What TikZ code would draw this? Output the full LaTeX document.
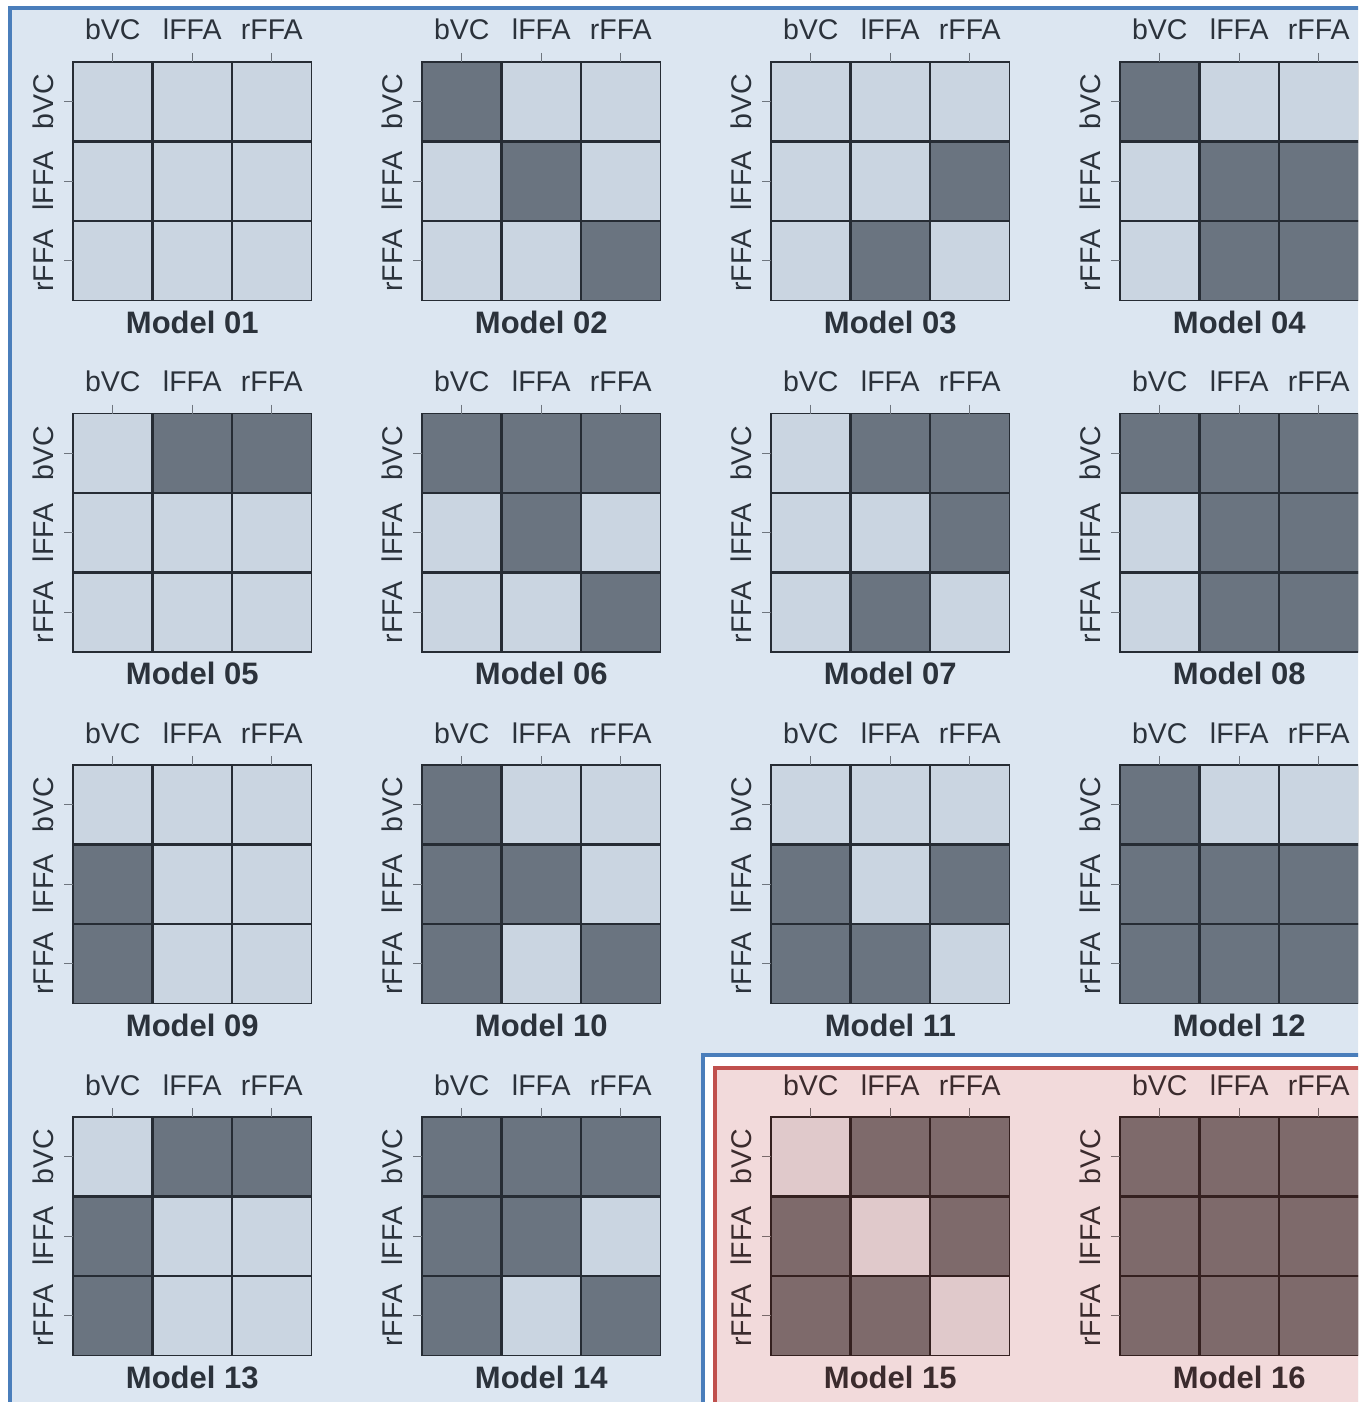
\documentclass[tikz,border=0pt]{standalone}
\usepackage{fontspec}
\setmainfont{Liberation Sans}
\definecolor{bgblue}{HTML}{DCE6F1}
\definecolor{bluebd}{HTML}{4A7EBB}
\definecolor{redbd}{HTML}{C0504D}
\definecolor{pinkbg}{HTML}{F2DADB}
\definecolor{blight}{HTML}{CAD5E1}
\definecolor{bdark}{HTML}{6A7480}
\definecolor{bgrid}{HTML}{262C34}
\definecolor{btext}{HTML}{2B323B}
\definecolor{btick}{HTML}{6E757E}
\definecolor{rlight}{HTML}{E0C9CB}
\definecolor{rdark}{HTML}{7E6A6B}
\definecolor{rgrid}{HTML}{34201F}
\definecolor{rtext}{HTML}{3B2B2D}
\definecolor{rtick}{HTML}{7A6A6B}
\tikzset{
  lab/.style={inner sep=0pt, font=\fontsize{28.5}{31}\selectfont},
  ttl/.style={inner sep=0pt, font=\fontsize{31}{34}\selectfont\bfseries},
}
\newcommand\mmat[5]{%
  \begin{scope}[shift={(#1,#2)}]
    \foreach \v [count=\k from 0] in {#4} {
      \pgfmathtruncatemacro\rr{int(\k/3)}
      \pgfmathtruncatemacro\cc{mod(\k,3)}
      \ifnum\v=1 \def\fc{#5dark}\else\def\fc{#5light}\fi
      \fill[fill=\fc] (\cc*79.5, \rr*79.5) rectangle ++(79.5,79.5);
    }
    \draw[#5grid, line width=1.3] (0,0) rectangle (238.5,238.5);
    \draw[#5grid, line width=2.3] (79.5,0) -- (79.5,238.5) (159,0) -- (159,238.5)
      (0,79.5) -- (238.5,79.5) (0,159) -- (238.5,159);
    \foreach \p in {39.75,119.25,198.75} {
      \draw[#5tick, line width=1] (\p,-9) -- (\p,0);
      \draw[#5tick, line width=1] (-9,\p) -- (0,\p);
    }
    \node[lab, text=#5text, anchor=base] (m#3c1) at (39.75,-22) {bVC};
    \node[lab, text=#5text, anchor=base] (m#3c2) at (119.25,-22) {lFFA};
    \node[lab, text=#5text, anchor=base] (m#3c3) at (198.75,-22) {rFFA};
    \node[lab, text=#5text, anchor=base, rotate=90] (m#3r1) at (-20,39.75) {bVC};
    \node[lab, text=#5text, anchor=base, rotate=90] (m#3r2) at (-20,119.25) {lFFA};
    \node[lab, text=#5text, anchor=base, rotate=90] (m#3r3) at (-20,198.75) {rFFA};
    \node[ttl, text=#5text, anchor=base] (m#3t) at (119.25,271) {Model #3};
  \end{scope}}
\begin{document}
\begin{tikzpicture}[x=1pt, y={(0pt,-1pt)}]
\useasboundingbox (0,0) rectangle (1358,1402);
\clip (0,0) rectangle (1358,1402);
\fill[white] (0,0) rectangle (1358,1402);
\draw[bluebd, line width=4, fill=bgblue] (10,8) rectangle (1390,1420);
\draw[bluebd, line width=4, fill=white] (703,1055) rectangle (1390,1420);
\draw[redbd, line width=4, fill=pinkbg] (715,1068) rectangle (1390,1420);
% row 1
\mmat{73}{62}{01}{0,0,0,0,0,0,0,0,0}{b}
\mmat{422}{62}{02}{1,0,0,0,1,0,0,0,1}{b}
\mmat{771}{62}{03}{0,0,0,0,0,1,0,1,0}{b}
\mmat{1120}{62}{04}{1,0,0,0,1,1,0,1,1}{b}
% row 2
\mmat{73}{413.5}{05}{0,1,1,0,0,0,0,0,0}{b}
\mmat{422}{413.5}{06}{1,1,1,0,1,0,0,0,1}{b}
\mmat{771}{413.5}{07}{0,1,1,0,0,1,0,1,0}{b}
\mmat{1120}{413.5}{08}{1,1,1,0,1,1,0,1,1}{b}
% row 3
\mmat{73}{765}{09}{0,0,0,1,0,0,1,0,0}{b}
\mmat{422}{765}{10}{1,0,0,1,1,0,1,0,1}{b}
\mmat{771}{765}{11}{0,0,0,1,0,1,1,1,0}{b}
\mmat{1120}{765}{12}{1,0,0,1,1,1,1,1,1}{b}
% row 4
\mmat{73}{1117}{13}{0,1,1,1,0,0,1,0,0}{b}
\mmat{422}{1117}{14}{1,1,1,1,1,0,1,0,1}{b}
\mmat{771}{1117}{15}{0,1,1,1,0,1,1,1,0}{r}
\mmat{1120}{1117}{16}{1,1,1,1,1,1,1,1,1}{r}
\end{tikzpicture}
\end{document}
